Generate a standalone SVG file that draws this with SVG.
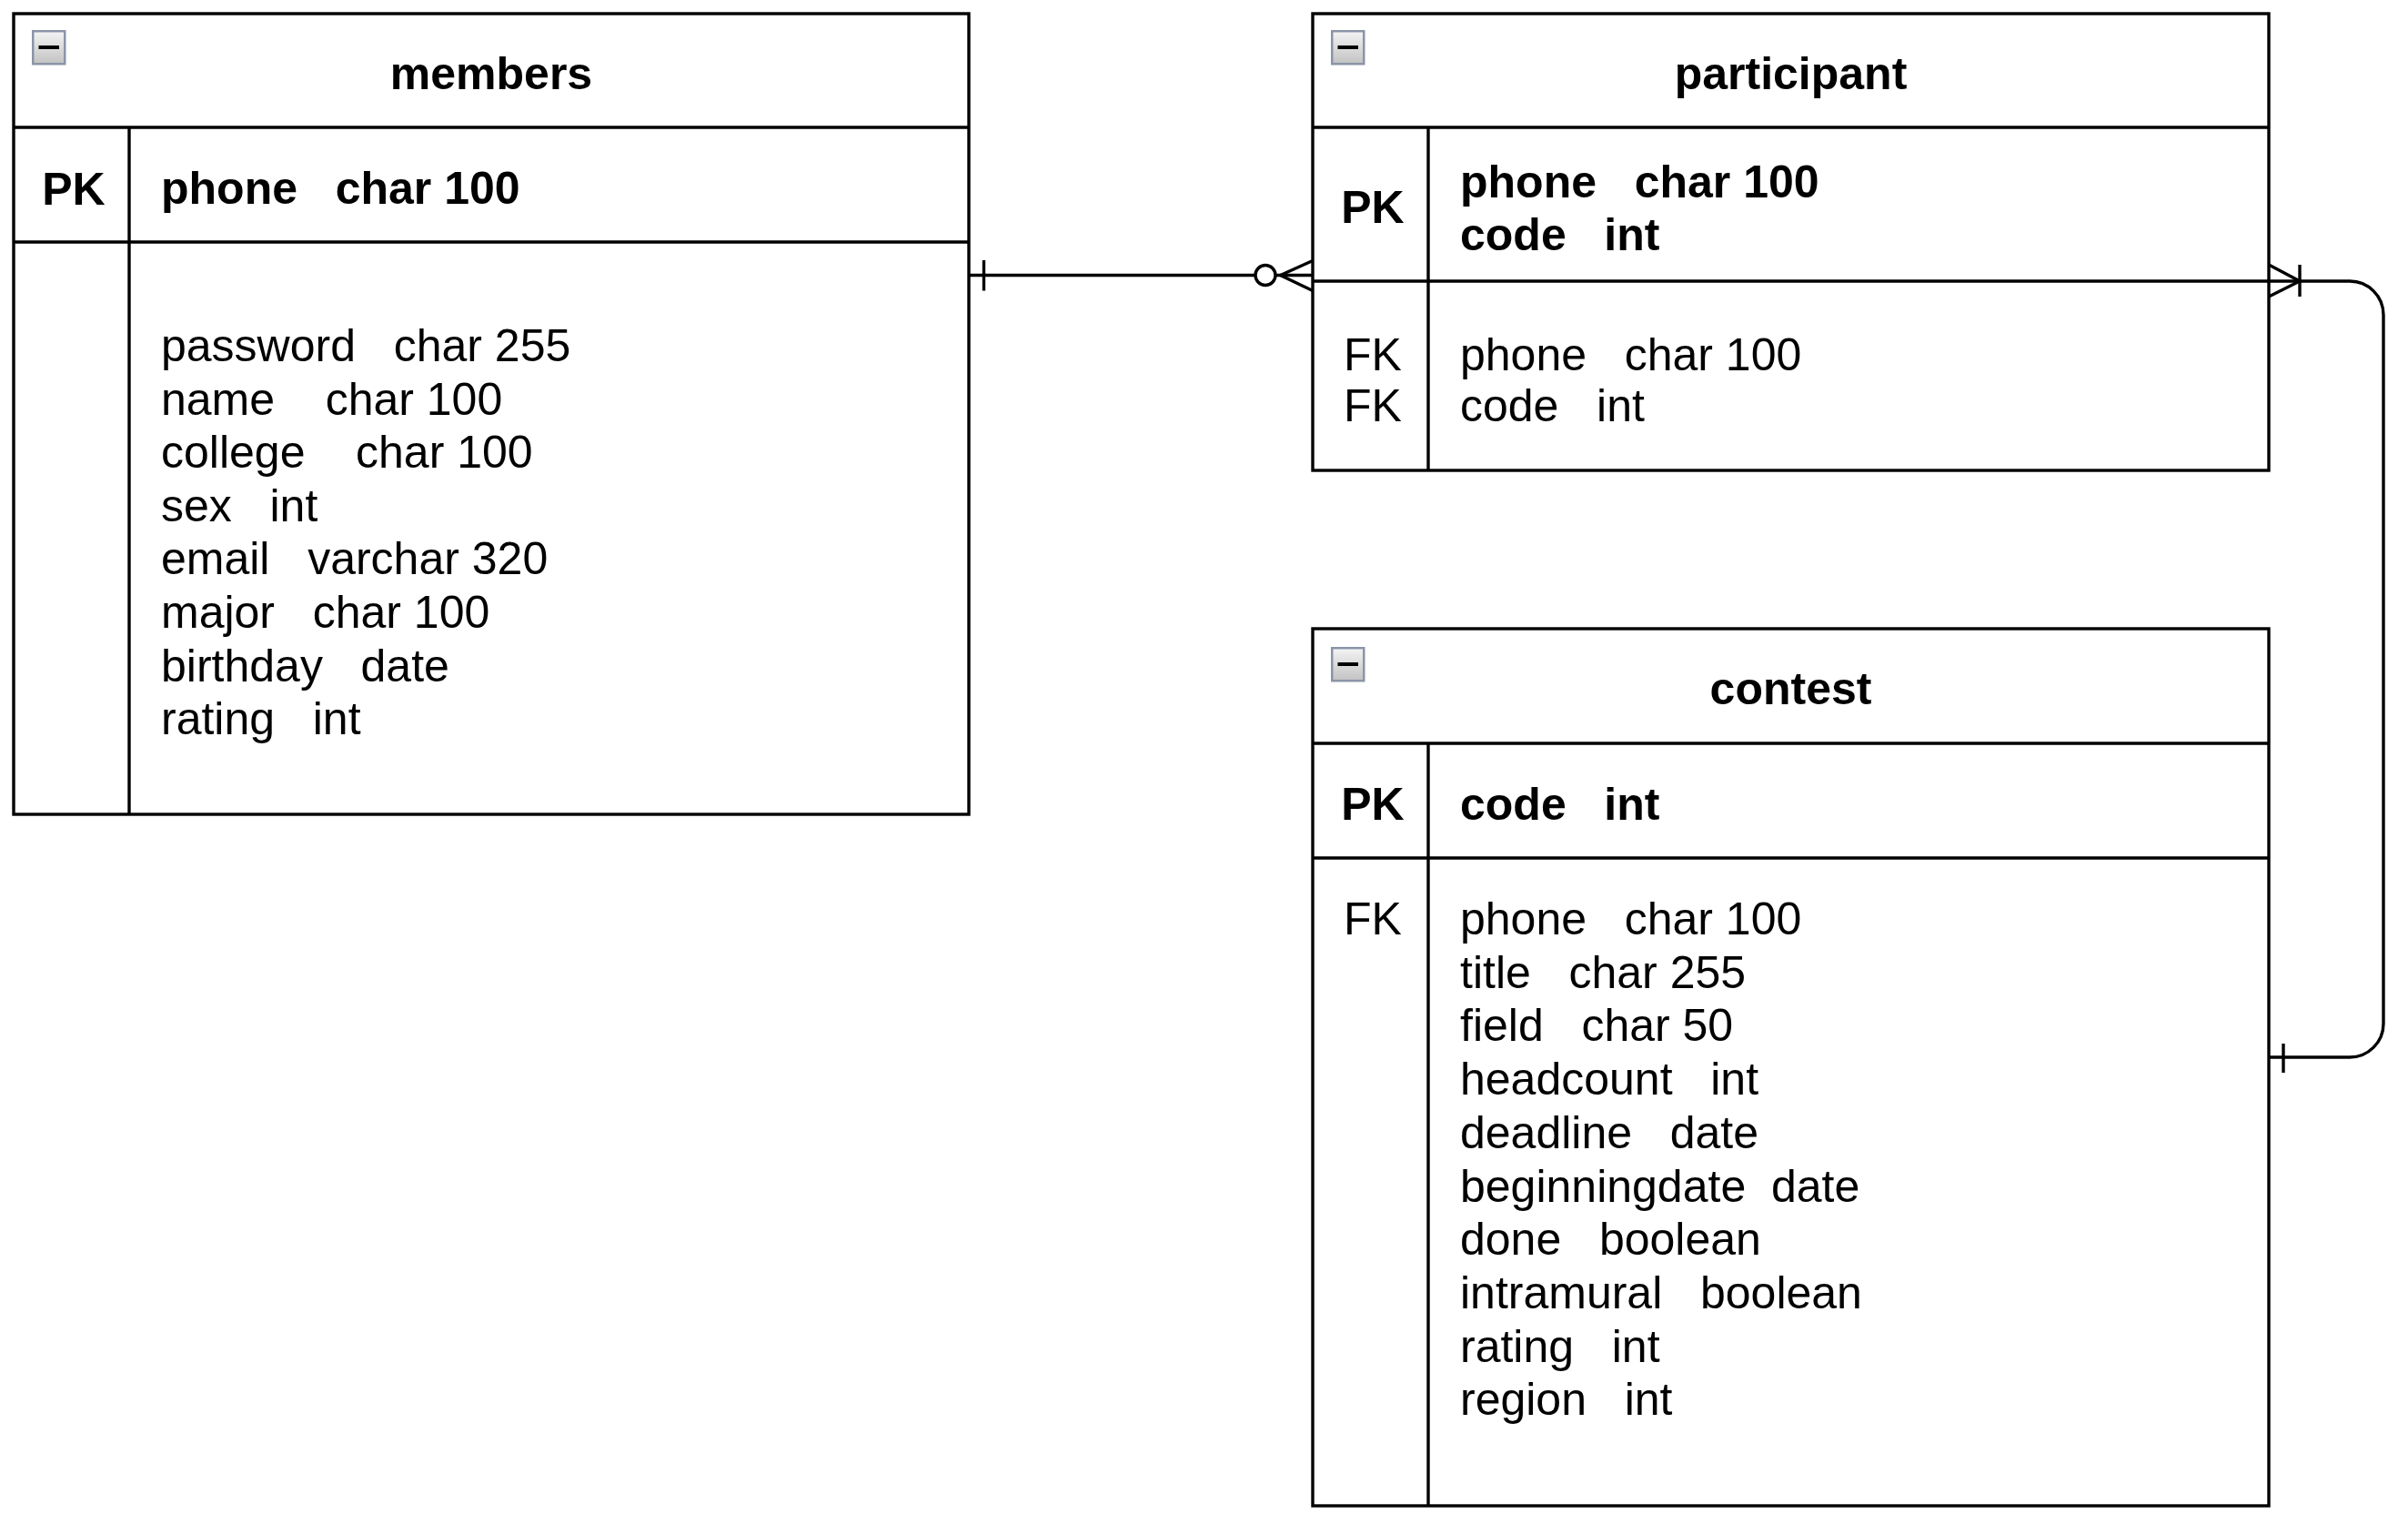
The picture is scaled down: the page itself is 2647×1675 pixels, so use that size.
<svg xmlns="http://www.w3.org/2000/svg" width="2647" height="1675" viewBox="0 0 2647 1675">
<defs>
<linearGradient id="ig" x1="0" y1="0" x2="0" y2="1">
<stop offset="0" stop-color="#f4f4f4"/>
<stop offset="1" stop-color="#c2c2c2"/>
</linearGradient>
<g id="icon">
<rect x="1.25" y="1.25" width="35" height="36" fill="url(#ig)" stroke="#8b95a7" stroke-width="2.5"/>
<rect x="7.5" y="17" width="22.5" height="4" fill="#000"/>
</g>
</defs>
<style>
.box{fill:#fff;stroke:#000;stroke-width:3.4}
.ln{stroke:#000;stroke-width:3.4;fill:none}
.dot{stroke:#000;stroke-width:3.4;fill:#fff}
text{font-family:"Liberation Sans",Arial,Helvetica,sans-serif;font-size:50px;fill:#000}
.b{font-weight:bold}
.t{text-anchor:middle;font-weight:bold}
.k{text-anchor:middle}
</style>
<rect x="0" y="0" width="2647" height="1675" fill="#fff"/>

<g id="members">
<rect class="box" x="15" y="15" width="1050" height="880"/>
<line class="ln" x1="15" y1="140" x2="1065" y2="140"/>
<line class="ln" x1="15" y1="266" x2="1065" y2="266"/>
<line class="ln" x1="142" y1="140" x2="142" y2="895"/>
<use href="#icon" x="35" y="33"/>
<text class="t" x="540" y="98">members</text>
<text class="t" x="81" y="225">PK</text>
<text class="b" x="177" y="224" xml:space="preserve">phone   char 100</text>
<text x="177" y="397" xml:space="preserve">password   char 255</text>
<text x="177" y="455.6" xml:space="preserve">name    char 100</text>
<text x="177" y="514.2" xml:space="preserve">college    char 100</text>
<text x="177" y="572.7" xml:space="preserve">sex   int</text>
<text x="177" y="631.3" xml:space="preserve">email   varchar 320</text>
<text x="177" y="689.9" xml:space="preserve">major   char 100</text>
<text x="177" y="748.5" xml:space="preserve">birthday   date</text>
<text x="177" y="807" xml:space="preserve">rating   int</text>
</g>

<g id="participant">
<rect class="box" x="1443" y="15" width="1051" height="502"/>
<line class="ln" x1="1443" y1="140" x2="2494" y2="140"/>
<line class="ln" x1="1443" y1="309" x2="2494" y2="309"/>
<line class="ln" x1="1570" y1="140" x2="1570" y2="517"/>
<use href="#icon" x="1463" y="33"/>
<text class="t" x="1968.5" y="98">participant</text>
<text class="t" x="1509" y="245">PK</text>
<text class="b" x="1605" y="216.7" xml:space="preserve">phone   char 100</text>
<text class="b" x="1605" y="275" xml:space="preserve">code   int</text>
<text class="k" x="1509" y="406.5">FK</text>
<text class="k" x="1509" y="463">FK</text>
<text x="1605" y="406.5" xml:space="preserve">phone   char 100</text>
<text x="1605" y="463" xml:space="preserve">code   int</text>
</g>

<g id="contest">
<rect class="box" x="1443" y="691" width="1051" height="964"/>
<line class="ln" x1="1443" y1="817" x2="2494" y2="817"/>
<line class="ln" x1="1443" y1="943" x2="2494" y2="943"/>
<line class="ln" x1="1570" y1="817" x2="1570" y2="1655"/>
<use href="#icon" x="1463" y="711"/>
<text class="t" x="1968.5" y="774">contest</text>
<text class="t" x="1509" y="901">PK</text>
<text class="b" x="1605" y="901" xml:space="preserve">code   int</text>
<text class="k" x="1509" y="1027">FK</text>
<text x="1605" y="1027" xml:space="preserve">phone   char 100</text>
<text x="1605" y="1085.7" xml:space="preserve">title   char 255</text>
<text x="1605" y="1144.4" xml:space="preserve">field   char 50</text>
<text x="1605" y="1203.1" xml:space="preserve">headcount   int</text>
<text x="1605" y="1261.8" xml:space="preserve">deadline   date</text>
<text x="1605" y="1320.5" xml:space="preserve">beginningdate  date</text>
<text x="1605" y="1379.2" xml:space="preserve">done   boolean</text>
<text x="1605" y="1437.9" xml:space="preserve">intramural   boolean</text>
<text x="1605" y="1496.6" xml:space="preserve">rating   int</text>
<text x="1605" y="1555.3" xml:space="preserve">region   int</text>
</g>

<g id="connectors">
<g id="edge-members-participant">
<path class="ln" d="M1066 302.5 H1443"/>
<path class="ln" d="M1081.5 286 V319.5"/>
<path class="ln" d="M1443 286.5 L1407.5 302.5 L1443 319.5"/>
<circle class="dot" cx="1391" cy="302.5" r="11"/>
</g>
<g id="edge-participant-contest">
<path class="ln" d="M2494 309 H2583 A37 37 0 0 1 2620 346 V1125 A37 37 0 0 1 2583 1162 H2494"/>
<path class="ln" d="M2494 291 L2528 309 L2494 326"/>
<path class="ln" d="M2528 291 V326"/>
<path class="ln" d="M2510 1147 V1179"/>
</g>
</g>
</svg>
